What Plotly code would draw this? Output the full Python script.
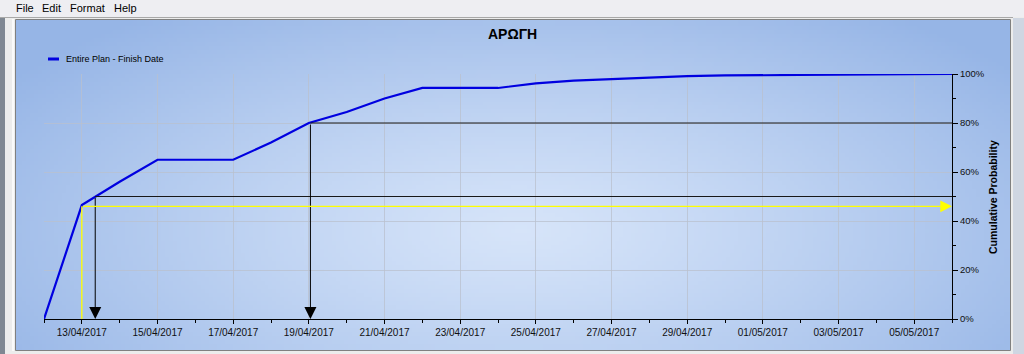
import base64, zlib, struct, math
import plotly.graph_objects as go

# ---------------- data ----------------
dates = ["2017-04-12", "2017-04-13", "2017-04-14", "2017-04-15", "2017-04-17",
         "2017-04-18", "2017-04-19", "2017-04-20", "2017-04-21", "2017-04-22",
         "2017-04-24", "2017-04-25", "2017-04-26", "2017-04-27", "2017-04-28",
         "2017-04-29", "2017-04-30", "2017-05-01", "2017-05-02", "2017-05-03",
         "2017-05-04", "2017-05-05", "2017-05-06"]
cum_prob = [0, 46.5, 56, 65, 65, 72, 80, 84.5, 90, 94.3, 94.3, 96.2, 97.3, 98,
            98.6, 99.1, 99.4, 99.5, 99.6, 99.7, 100, 100, 100]

series_name = "Entire Plan - Finish Date"
title_text = "ΑΡΩΓΗ"
y_title = "Cumulative Probability"
menu_items = ["File", "Edit", "Format", "Help"]

det_date, det_prob = "2017-04-13", 46      # yellow (deterministic) marker
p50_date, p50 = "2017-04-13 08:30", 50      # P50 marker
p80_date, p80 = "2017-04-19 01:00", 80      # P80 marker
x_start, x_end = "2017-04-12", "2017-05-06"

# ---------------- geometry ----------------
W, H = 1024, 354
L, R, T, B = 44, 952, 74, 319
PW, PH = R - L, B - T


def px(x):
    return (x - L) / PW


def py(y):
    return (B - y) / PH


# ---------------- gradient background image ----------------
def make_png(w, h, fn):
    raw = bytearray()
    for j in range(h):
        raw.append(0)
        for i in range(w):
            raw.extend(fn(i, j))
    def chunk(tag, data):
        c = tag + data
        return struct.pack(">I", len(data)) + c + struct.pack(">I", zlib.crc32(c) & 0xffffffff)
    png = b"\x89PNG\r\n\x1a\n"
    png += chunk(b"IHDR", struct.pack(">IIBBBBB", w, h, 8, 2, 0, 0, 0))
    png += chunk(b"IDAT", zlib.compress(bytes(raw), 9))
    png += chunk(b"IEND", b"")
    return "data:image/png;base64," + base64.b64encode(png).decode()


PANEL_X0, PANEL_X1, PANEL_Y0, PANEL_Y1 = 16, 1010, 20, 350
gw, gh = 250, 83
sx = (PANEL_X1 - PANEL_X0) / gw
sy = (PANEL_Y1 - PANEL_Y0) / gh
center = (214, 228, 249)
edge = (150, 181, 230)
cx, cy = 520, 230


def grad(i, j):
    X = PANEL_X0 + (i + 0.5) * sx
    Y = PANEL_Y0 + (j + 0.5) * sy
    dx = (X - cx) / 620
    dy = (Y - cy) / 270
    d = min(1.0, math.sqrt(dx * dx + dy * dy))
    t = d ** 1.2
    return bytes(int(round(center[k] + (edge[k] - center[k]) * t)) for k in range(3))


bg_src = make_png(gw, gh, grad)

fig = go.Figure()

fig.add_trace(go.Scatter(
    x=dates, y=cum_prob, mode="lines", name=series_name,
    line=dict(color="#0000e0", width=2.2), showlegend=False,
    hoverinfo="skip"))

shapes = []
annotations = []

# marker lines via data coordinates
shapes.append(dict(type="line", xref="x", yref="y", x0=p50_date, x1=x_end,
                   y0=p50, y1=p50, line=dict(color="#181818", width=1)))
shapes.append(dict(type="line", xref="x", yref="y", x0=p80_date, x1=x_end,
                   y0=p80, y1=p80, line=dict(color="#181818", width=1)))
shapes.append(dict(type="line", xref="x", yref="y", x0=det_date, x1=det_date,
                   y0=0, y1=det_prob, line=dict(color="#ffff00", width=1.3)))

for d, p in [(p50_date, p50), (p80_date, p80)]:
    annotations.append(dict(x=d, y=0, ax=d, ay=p, xref="x", yref="y",
                            axref="x", ayref="y", showarrow=True, text="",
                            arrowhead=2, arrowsize=2.4, arrowwidth=1,
                            arrowcolor="#000000"))
annotations.append(dict(x=x_end, y=det_prob, ax=det_date, ay=det_prob,
                        xref="x", yref="y", axref="x", ayref="y",
                        showarrow=True, text="", arrowhead=2, arrowsize=1.8,
                        arrowwidth=1.3, arrowcolor="#ffff00"))

# ---------------- window chrome ----------------
shapes += [
    dict(type="rect", xref="paper", yref="paper", x0=px(0), x1=px(W),
         y0=py(0), y1=py(17), fillcolor="#eeeef2", line=dict(width=0),
         layer="below"),
    dict(type="line", xref="paper", yref="paper", x0=px(0), x1=px(1013),
         y0=py(17.5), y1=py(17.5), line=dict(color="#a8a8a8", width=1)),
    dict(type="rect", xref="paper", yref="paper", x0=px(0), x1=px(5),
         y0=py(18), y1=py(H), fillcolor="#7f8792", line=dict(width=0),
         layer="below"),
    dict(type="rect", xref="paper", yref="paper", x0=px(1013), x1=px(W),
         y0=py(18), y1=py(H), fillcolor="#cfd6e2", line=dict(width=0),
         layer="below"),
    dict(type="line", xref="paper", yref="paper", x0=px(13), x1=px(13),
         y0=py(19), y1=py(351), line=dict(color="#fafafa", width=2)),
    dict(type="rect", xref="paper", yref="paper", x0=px(PANEL_X0 - 0.5),
         x1=px(PANEL_X1 + 0.5), y0=py(PANEL_Y0 - 0.5), y1=py(PANEL_Y1 + 0.5),
         line=dict(color="#808080", width=1), layer="above"),
    # legend swatch
    dict(type="line", xref="paper", yref="paper", x0=px(48), x1=px(59),
         y0=py(59), y1=py(59), line=dict(color="#0000e0", width=3)),
]

menu_x = [14, 40, 68, 112]
for name, mx in zip(menu_items, menu_x):
    annotations.append(dict(x=px(mx), y=py(8.5), xref="paper", yref="paper",
                            text=name, showarrow=False, xanchor="left",
                            yanchor="middle",
                            font=dict(family="Liberation Sans, Arial", size=11,
                                      color="#000000")))

annotations.append(dict(x=px(64), y=py(59), xref="paper", yref="paper",
                        text=series_name, showarrow=False, xanchor="left",
                        yanchor="middle",
                        font=dict(family="Liberation Sans, Arial", size=9,
                                  color="#000000")))
annotations.append(dict(x=px(512), y=py(34), xref="paper", yref="paper",
                        text="<b>" + title_text + "</b>", showarrow=False,
                        xanchor="center", yanchor="middle",
                        font=dict(family="Liberation Sans, Arial", size=14,
                                  color="#000000")))
annotations.append(dict(x=px(993), y=py(197), xref="paper", yref="paper",
                        text="<b>" + y_title + "</b>", showarrow=False,
                        textangle=-90, xanchor="center", yanchor="middle",
                        font=dict(family="Liberation Sans, Arial", size=10.5,
                                  color="#000000")))

fig.update_layout(
    width=W, height=H,
    margin=dict(l=L, r=W - R, t=T, b=H - B, pad=0),
    paper_bgcolor="#ececec",
    plot_bgcolor="rgba(0,0,0,0)",
    showlegend=False,
    shapes=shapes,
    annotations=annotations,
    images=[dict(source=bg_src, xref="paper", yref="paper",
                 x=px(PANEL_X0), y=py(PANEL_Y0),
                 sizex=(PANEL_X1 - PANEL_X0) / PW,
                 sizey=(PANEL_Y1 - PANEL_Y0) / PH,
                 sizing="stretch", xanchor="left", yanchor="top",
                 layer="below")],
    xaxis=dict(type="date", range=[x_start, x_end], tick0="2017-04-13",
               dtick=2 * 86400000, tickformat="%d/%m/%Y",
               showline=True, linecolor="#000000", linewidth=1,
               ticks="outside", ticklen=4, tickcolor="#000000",
               showgrid=True, gridcolor="rgba(185,192,205,0.75)", gridwidth=1,
               zeroline=False,
               minor=dict(dtick=86400000, ticks="outside", ticklen=3,
                          tickcolor="#000000", showgrid=False),
               tickfont=dict(family="Liberation Sans, Arial", size=10,
                             color="#101010")),
    yaxis=dict(range=[0, 100], side="right", dtick=20, ticksuffix="%",
               showline=True, linecolor="#000000", linewidth=1,
               ticks="outside", ticklen=5, tickcolor="#000000",
               showgrid=True, gridcolor="rgba(185,192,205,0.75)", gridwidth=1,
               zeroline=False,
               minor=dict(dtick=10, ticks="outside", ticklen=3,
                          tickcolor="#000000", showgrid=False),
               tickfont=dict(family="Liberation Sans, Arial", size=9.5,
                             color="#101010")),
)

fig.write_html("out.html")
